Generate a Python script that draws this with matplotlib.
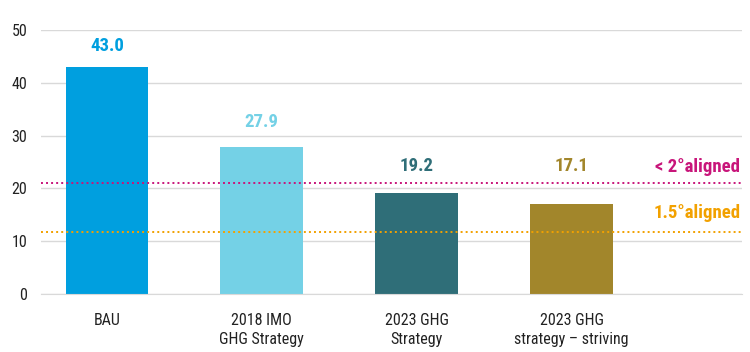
import matplotlib
matplotlib.use("Agg")
import matplotlib.pyplot as plt

categories = ["BAU", "2018 IMO\nGHG Strategy", "2023 GHG\nStrategy", "2023 GHG\nstrategy – striving"]
values = [43.0, 27.9, 19.2, 17.1]
bar_colors = ["#009FDF", "#74D1E6", "#2F6E78", "#A2862B"]
yticks = [0, 10, 20, 30, 40, 50]
line_2deg = 21.0
line_15deg = 11.7

# label heights (layout) - the last one is lifted to line up with its neighbour
label_y = [45.2, 30.9, 22.5, 22.5]

FONT = ["Roboto Condensed", "DejaVu Sans"]
plt.rcParams["font.family"] = FONT

fig = plt.figure(figsize=(7.5, 3.52), dpi=100)
ax = fig.add_axes([41 / 750, 1 - 294 / 352, 701 / 750, 264 / 352])

x = list(range(len(categories)))
ax.bar(x, values, width=0.535, color=bar_colors, zorder=2)
for xi, v, ly, c in zip(x, values, label_y, bar_colors):
    ax.text(xi, ly, f"{v:.1f}", ha="center", va="bottom", fontsize=13.5,
            weight="bold", color=c)

ax.axhline(line_2deg, color="#C8157A", ls=(0, (1, 1.6)), lw=1.4, zorder=3)
ax.axhline(line_15deg, color="#F2A100", ls=(0, (1, 1.6)), lw=1.4, zorder=3)
ax.text(4.09, line_2deg + 1.4, "< 2°aligned", ha="right", va="bottom",
        fontsize=13.5, weight="bold", color="#C8157A")
ax.text(4.09, line_15deg + 2.0, "1.5°aligned", ha="right", va="bottom",
        fontsize=13.5, weight="bold", color="#F2A100")

ax.set_xlim(-0.426, 4.10)
ax.set_ylim(0, 50)
ax.set_yticks(yticks)
ax.set_xticks(x)
ax.set_xticklabels(categories, fontsize=11.5, color="#222222", linespacing=1.3)
ax.tick_params(axis="both", length=0, labelsize=11.5, colors="#222222")
ax.tick_params(axis="x", pad=14)
ax.tick_params(axis="y", pad=10)
ax.yaxis.grid(True, color="#D9D9D9", lw=1.0, zorder=0)
ax.set_axisbelow(True)
for s in ax.spines.values():
    s.set_visible(False)
ax.spines["bottom"].set_visible(True)
ax.spines["bottom"].set_color("#D9D9D9")

fig.savefig("out.png", dpi=100)
